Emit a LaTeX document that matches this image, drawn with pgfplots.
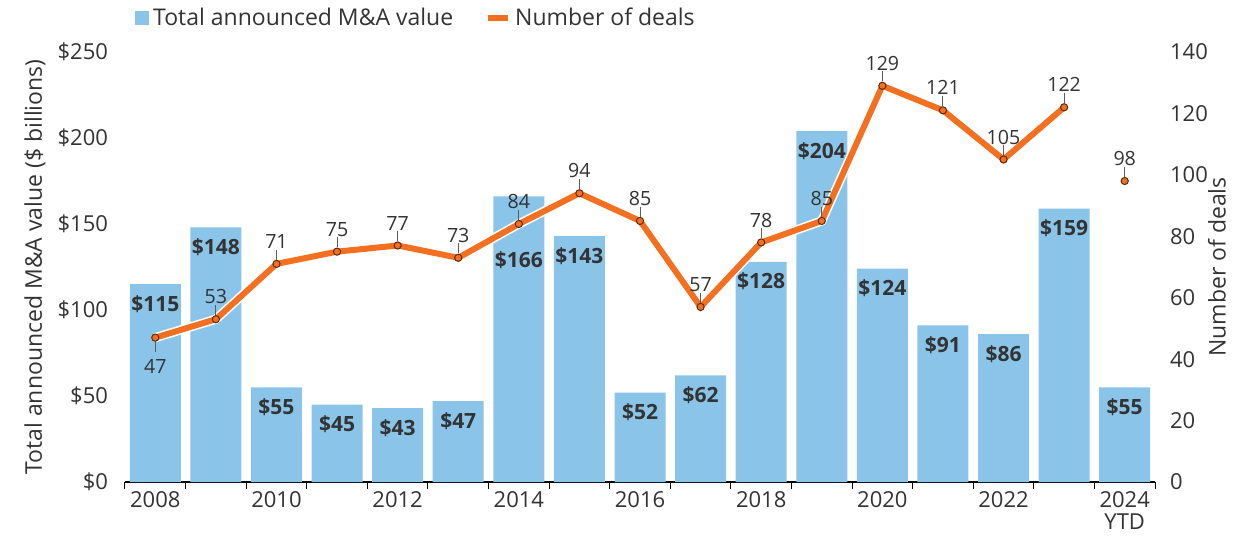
\documentclass[border=0pt]{standalone}
\usepackage{fontspec}
\setmainfont{Open Sans}
\usepackage{pgfplots}
\pgfplotsset{compat=1.18}
\definecolor{barblue}{HTML}{8AC4E8}
\definecolor{lineorange}{HTML}{F37021}
\definecolor{markdark}{HTML}{5A2D0C}
\definecolor{txt}{HTML}{333333}
\newcommand\fs{\fontsize{11}{13}\selectfont}
\newcommand\fsb{\fontsize{10.5}{12.5}\selectfont}
\newcommand\fsa{\fontsize{11.5}{13.5}\selectfont}
\newcommand\fsl{\fontsize{9.8}{11.5}\selectfont}
\begin{document}
\begin{tikzpicture}[font=\fs, text=txt]
\begin{axis}[
  scale only axis, width=515pt, height=215pt,
  xmin=-0.5, xmax=16.5, ymin=0, ymax=250,
  axis x line*=bottom, axis y line*=left,
  y axis line style={draw=none},
  x axis line style={line width=1pt, black},
  xtick={0,2,...,16},
  xticklabels={2008,2010,2012,2014,2016,2018,2020,2022,{2024\\[-2pt]YTD}},
  xticklabel style={align=center, text=txt, yshift=-1pt},
  minor xtick={-0.5,0.5,...,16.5},
  tick align=outside,
  major tick length=0pt, minor tick length=3.5pt,
  minor tick style={black, line width=0.5pt},
  ytick={0,50,...,250},
  yticklabel={\$\pgfmathprintnumber{\tick}},
  yticklabel style={xshift=-5pt, text=txt},
  /pgf/number format/assume math mode=true,
  ylabel={Total announced M\&A value (\$ billions)},
  every axis y label/.style={at={(axis description cs:-0.0874,0.5)}, anchor=center, rotate=90, text=txt, font=\fsa},
  clip=false,
]
\addplot[ybar, fill=barblue, draw=none, bar width=25.5pt]
coordinates {(0,115)(1,148)(2,55)(3,45)(4,43)(5,47)(6,166)(7,143)(8,52)(9,62)(10,128)(11,204)(12,124)(13,91)(14,86)(15,159)(16,55)};
\addplot[draw=none,
  nodes near coords={\$\pgfmathprintnumber{\pgfplotspointmeta}},
  every node near coord/.append style={anchor=north, font=\fsb\bfseries, text=txt, yshift=-2pt}]
coordinates {(0,115)(1,148)(2,55)(3,45)(4,43)(5,47)(7,143)(8,52)(9,62)(10,128)(11,204)(12,124)(13,91)(14,86)(15,159)(16,55)};
\addplot[draw=none,
  nodes near coords={\$\pgfmathprintnumber{\pgfplotspointmeta}},
  every node near coord/.append style={anchor=north, font=\fsb\bfseries, text=txt, yshift=-24pt}]
coordinates {(6,166)};
\end{axis}
\begin{axis}[
  scale only axis, width=515pt, height=215pt,
  xmin=-0.5, xmax=16.5, ymin=0, ymax=140,
  axis x line=none, axis y line*=right,
  y axis line style={draw=none},
  ytick={0,20,...,140}, major tick length=0pt,
  yticklabel style={xshift=4pt, text=txt},
  /pgf/number format/assume math mode=true,
  ylabel={Number of deals},
  every axis y label/.style={at={(axis description cs:1.0602,0.5)}, anchor=center, rotate=90, text=txt, font=\fsa},
  clip=false,
  legend style={at={(axis description cs:0,1)}, anchor=west, xshift=2pt, yshift=17pt,
    draw=none, fill=none, font=\fsa, text=txt, legend columns=-1,
    /tikz/every even column/.append style={column sep=14pt}},
]
\addlegendimage{legend image code/.code={\fill[barblue] (0pt,-3.25pt) rectangle (6.5pt,3.25pt);}}
\addlegendentry{Total announced M\&A value}
\addplot[white, line width=4.6pt, forget plot] coordinates {(0,47)(1,53)(2,71)(3,75)(4,77)(5,73)(6,84)(7,94)(8,85)(9,57)(10,78)(11,85)(12,129)(13,121)(14,105)(15,122)};
\addplot[lineorange, line width=3pt, mark=*, mark size=1.8pt,
  mark options={fill=lineorange, draw=markdark, line width=0.5pt},
  legend image code/.code={\draw[lineorange, line width=3pt] (0pt,0pt) -- (10pt,0pt);}]
coordinates {(0,47)(1,53)(2,71)(3,75)(4,77)(5,73)(6,84)(7,94)(8,85)(9,57)(10,78)(11,85)(12,129)(13,121)(14,105)(15,122)};
\addlegendentry{Number of deals}
\addplot[only marks, mark=*, mark size=1.8pt,
  mark options={fill=lineorange, draw=markdark, line width=0.5pt}, forget plot]
coordinates {(16,98)};
% labels above
\addplot[draw=none, forget plot,
  nodes near coords={\pgfmathprintnumber{\pgfplotspointmeta}\\[-6pt]\textcolor{txt!80}{\rule{0.5pt}{5pt}}},
  every node near coord/.append style={anchor=south, align=center, inner sep=0pt, yshift=2pt, font=\fsl, text=txt}]
coordinates {(1,53)(2,71)(3,75)(4,77)(5,73)(6,84)(7,94)(8,85)(9,57)(10,78)(11,85)(12,129)(13,121)(14,105)(15,122)(16,98)};
% label below
\addplot[draw=none, forget plot,
  nodes near coords={\textcolor{txt!80}{\rule{0.5pt}{5pt}}\\[-1pt]\pgfmathprintnumber{\pgfplotspointmeta}},
  every node near coord/.append style={anchor=north, align=center, inner sep=0pt, yshift=-2pt, font=\fsl, text=txt}]
coordinates {(0,47)};
\end{axis}
\pgfresetboundingbox
\path ([shift={(-62.5pt,-26.5pt)}]current axis.south west) rectangle ([shift={(560pt,241pt)}]current axis.south west);
\end{tikzpicture}
\end{document}
